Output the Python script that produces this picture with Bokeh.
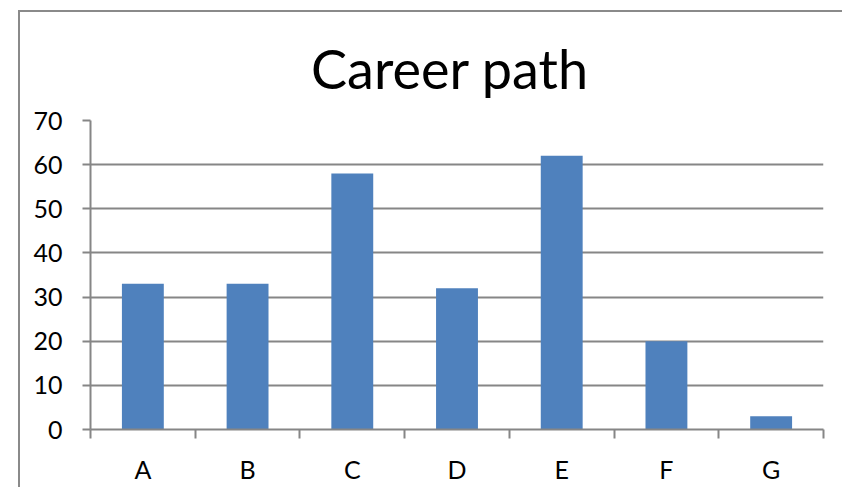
import numpy as np
from bokeh.plotting import figure
from bokeh.models import Range1d, FixedTicker, ColumnDataSource
from bokeh.embed import file_html
from bokeh.resources import INLINE

categories = ["A", "B", "C", "D", "E", "F", "G"]
values = [33, 33, 58, 32, 62, 20, 3]
y_ticks = [0, 10, 20, 30, 40, 50, 60, 70]
title_text = "Career  path"

FONT = "Lato"
GRAY = "#868686"
BAR = "#4F81BD"

centers = np.arange(len(categories)) + 0.5
src = ColumnDataSource(dict(x=centers, top=values, cat=categories))

p = figure(width=822, height=480, output_backend="svg", toolbar_location=None,
           x_range=Range1d(0, len(categories)), y_range=Range1d(0, 70),
           min_border_left=70, min_border_right=19, min_border_top=113,
           min_border_bottom=58)
p.margin = (7, 0, 0, 20)
# outer chart border: left line as an outer shadow, top line as inset shadows
p.styles = {"box-shadow": "-2px 3px 0px 0px #8a8a8a, "
                          "inset 0px 3px 0px 0px #ffffff, "
                          "inset 0px 5px 0px 0px #8a8a8a"}

p.title.text = title_text
p.title.text_font = FONT
p.title.text_font_style = "normal"
p.title.text_font_size = "54px"
p.title.align = "center"
p.title.text_color = "black"
p.title.offset = 0
p.title.standoff = 40

p.outline_line_color = None
p.background_fill_color = "white"
p.border_fill_color = None

p.vbar(x="x", top="top", width=0.4, source=src, fill_color=BAR, line_color=None)

# grid
p.xgrid.visible = False
p.ygrid.ticker = FixedTicker(ticks=y_ticks)
p.ygrid.grid_line_color = GRAY
p.ygrid.grid_line_width = 2

# y axis
p.yaxis.ticker = FixedTicker(ticks=y_ticks)
p.yaxis.axis_line_color = GRAY
p.yaxis.axis_line_width = 2
p.yaxis.major_tick_line_color = GRAY
p.yaxis.major_tick_line_width = 2
p.yaxis.major_tick_out = 8
p.yaxis.major_tick_in = 0
p.yaxis.minor_tick_line_color = None
p.yaxis.major_label_text_font = FONT
p.yaxis.major_label_text_font_size = "25px"
p.yaxis.major_label_text_color = "black"
p.yaxis.major_label_standoff = 20

# x axis: labels at centers, boundary ticks as minor ticks
p.xaxis.ticker = FixedTicker(ticks=list(centers),
                             minor_ticks=list(range(len(categories) + 1)))
p.xaxis.major_label_overrides = {float(c): cat for c, cat in zip(centers, categories)}
p.xaxis.axis_line_color = GRAY
p.xaxis.axis_line_width = 2
p.xaxis.major_tick_line_color = None
p.xaxis.major_tick_out = 0
p.xaxis.major_tick_in = 0
p.xaxis.minor_tick_line_color = GRAY
p.xaxis.minor_tick_line_width = 2
p.xaxis.minor_tick_out = 9
p.xaxis.minor_tick_in = 0
p.xaxis.major_label_text_font = FONT
p.xaxis.major_label_text_font_size = "25px"
p.xaxis.major_label_text_color = "black"
p.xaxis.major_label_standoff = 15

open("out.html", "w").write(file_html(p, INLINE))
